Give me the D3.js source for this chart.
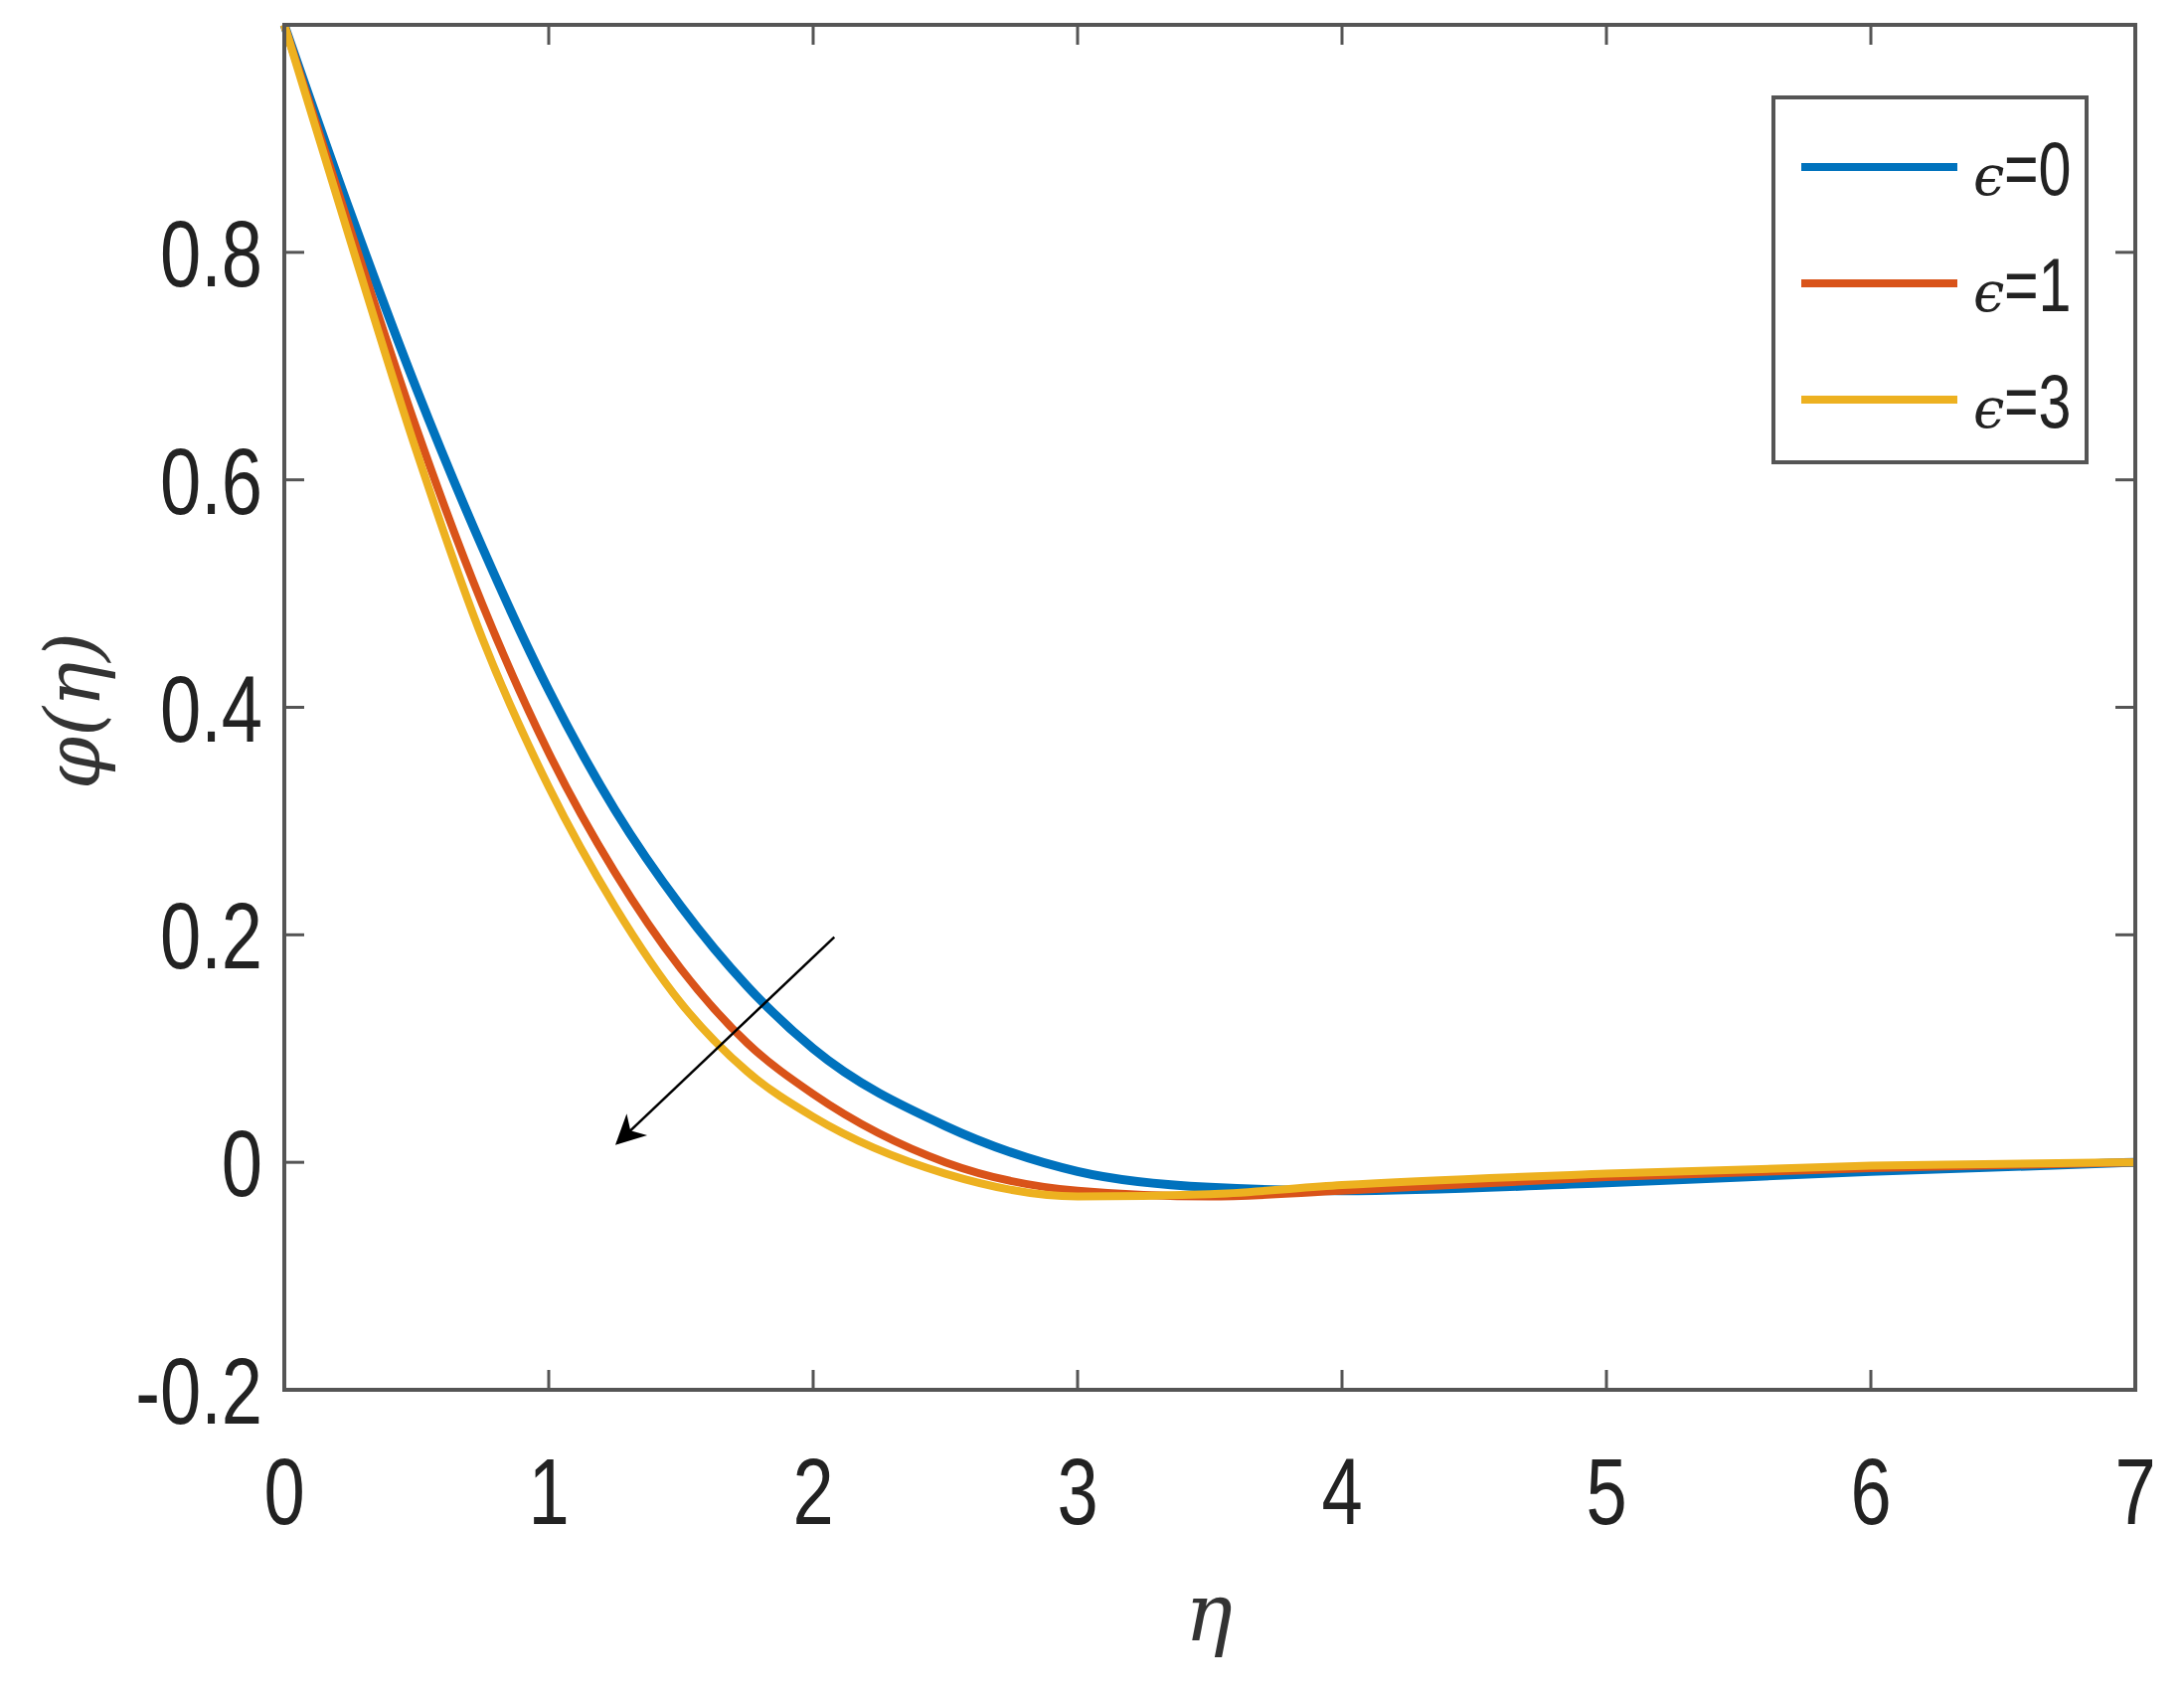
<!DOCTYPE html>
<html><head><meta charset="utf-8">
<script src="https://cdn.jsdelivr.net/npm/d3@7"></script>
<style>body{margin:0;background:#fff}</style>
</head><body>
<svg id="c" width="2197" height="1707"></svg>
<script>
var eta = [0,0.25,0.5,0.75,1,1.25,1.5,1.75,2,2.5,3,3.5,4,5,6,7];
var phiE0 = [1,0.835,0.68,0.54,0.415,0.31,0.225,0.155,0.10,0.032,-0.008,-0.022,-0.025,-0.018,-0.008,0];
var phiE1 = [1,0.82,0.645,0.49,0.36,0.255,0.17,0.105,0.06,0.0,-0.025,-0.03,-0.025,-0.013,-0.005,0];
var phiE3 = [1,0.81,0.625,0.46,0.33,0.225,0.14,0.08,0.04,-0.01,-0.03,-0.028,-0.02,-0.01,-0.003,0];
var seriesNames = ["=0","=1","=3"];
var colors = ["#0072BD","#D95319","#EDB120"];
var xTicks = [0,1,2,3,4,5,6,7];
var yTicks = [-0.2,0,0.2,0.4,0.6,0.8];
var arrow = [[2.08,0.198],[1.26,0.017]];

var svg = d3.select("#c");
var L=286,R=2148,T=25,B=1398;
var x = d3.scaleLinear().domain([0,7]).range([L,R]);
var y = d3.scaleLinear().domain([-0.2,1]).range([B,T]);
var font = "'Liberation Sans',Arial,sans-serif";
var axc = "#555";

function narrowText(px, py, anchor, size, str){
  return svg.append("text").attr("transform","translate("+px+","+py+") scale(0.78,1)")
    .attr("text-anchor",anchor).attr("font-family",font).attr("font-size",size).attr("fill","#222").text(str);
}

var tl = 20;
xTicks.forEach(function(t){
  [[B,B-tl],[T,T+tl]].forEach(function(p){
    svg.append("line").attr("x1",x(t)).attr("x2",x(t)).attr("y1",p[0]).attr("y2",p[1]).attr("stroke",axc).attr("stroke-width",3);
  });
  narrowText(x(t), B+135, "middle", 95, t);
});
yTicks.forEach(function(t){
  [[L,L+tl],[R,R-tl]].forEach(function(p){
    svg.append("line").attr("y1",y(t)).attr("y2",y(t)).attr("x1",p[0]).attr("x2",p[1]).attr("stroke",axc).attr("stroke-width",3);
  });
  narrowText(L-22, y(t)+34, "end", 95, t===0?"0":(t<0?"-0.2":d3.format(".1f")(t)));
});

var line = d3.line().x(function(d){return x(d[0]);}).y(function(d){return y(d[1]);}).curve(d3.curveMonotoneX);
[phiE0,phiE1,phiE3].forEach(function(s,i){
  svg.append("path").attr("d",line(eta.map(function(e,j){return [e,s[j]];})))
    .attr("fill","none").attr("stroke",colors[i]).attr("stroke-width",i===0?9:8);
});

svg.append("rect").attr("x",L).attr("y",T).attr("width",R-L).attr("height",B-T)
  .attr("fill","none").attr("stroke",axc).attr("stroke-width",4);

svg.append("defs").append("marker").attr("id","ah").attr("viewBox","0 0 10 10").attr("refX",9).attr("refY",5)
  .attr("markerWidth",40).attr("markerHeight",30).attr("orient","auto").attr("markerUnits","userSpaceOnUse")
  .append("path").attr("d","M0,0 L10,5 L0,10 L3,5 z").attr("fill","#000");
svg.append("line").attr("x1",x(arrow[0][0])).attr("y1",y(arrow[0][1])).attr("x2",x(arrow[1][0])).attr("y2",y(arrow[1][1]))
  .attr("stroke","#000").attr("stroke-width",2.5).attr("marker-end","url(#ah)");

var lg = svg.append("g");
lg.append("rect").attr("x",1784).attr("y",98).attr("width",315).attr("height",367).attr("fill","#fff").attr("stroke",axc).attr("stroke-width",4);
seriesNames.forEach(function(n,i){
  var yy = 168 + i*117;
  lg.append("line").attr("x1",1812).attr("x2",1969).attr("y1",yy).attr("y2",yy).attr("stroke",colors[i]).attr("stroke-width",8);
  lg.append("text").attr("x",1985).attr("y",yy+28).attr("font-family","'DejaVu Serif',serif").attr("font-style","italic")
    .attr("font-size",56).attr("fill","#222").text("\u03f5");
  narrowText(2016, yy+28, "start", 76, n);
});

svg.append("text").attr("x",1216).attr("y",1650).attr("text-anchor","middle").attr("font-family","'DejaVu Serif',serif")
  .attr("font-style","italic").attr("font-size",80).attr("fill","#333").text("\u03b7");
svg.append("text").attr("transform","translate(100,715) rotate(-90)").attr("text-anchor","middle").attr("font-family","'DejaVu Serif',serif")
  .attr("font-style","italic").attr("font-size",76).attr("fill","#333").text("\u03c6(\u03b7)");
</script>
</body></html>
